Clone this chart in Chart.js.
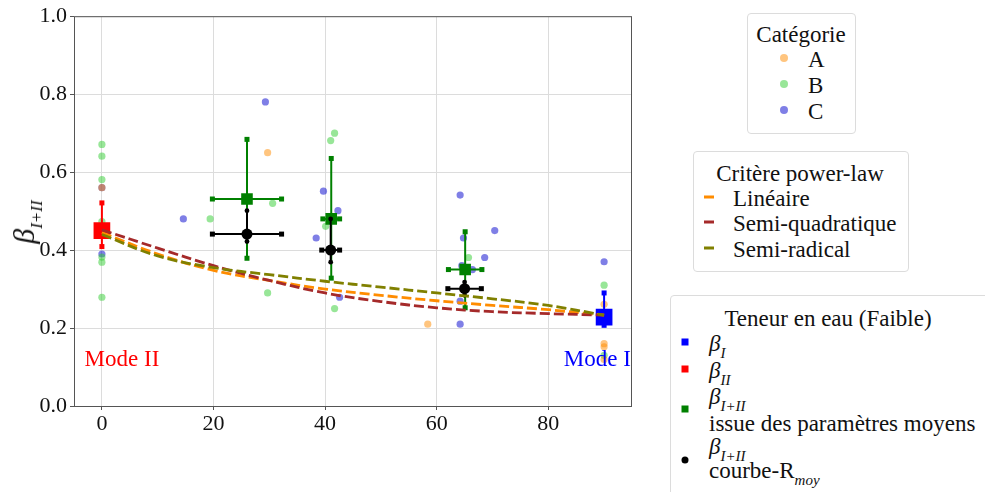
<!DOCTYPE html>
<html>
<head>
<meta charset="utf-8">
<script src="https://cdn.jsdelivr.net/npm/chart.js@4.4.0/dist/chart.umd.min.js"></script>
<style>
body { margin: 0; background: #fff; font-family: "Liberation Serif", "Times New Roman", "DejaVu Serif", serif; color: #111; }
#wrap { position: relative; width: 985px; height: 492px; overflow: hidden; }
canvas { position: absolute; left: 0; top: 0; }
.box { position: absolute; border: 1px solid #dcdcdc; border-radius: 4px; background: #fff; font-size: 23px; font-family: "Liberation Serif", "Times New Roman", serif; }
.box div { position: absolute; white-space: nowrap; line-height: 1; }
.ttl { transform: translate(-50%, -50%); }
.lbl { transform: translateY(-50%); }
.dot { width: 8px; height: 8px; border-radius: 50%; transform: translate(-50%, -50%); }
.dash { width: 10px; height: 3px; transform: translateY(-50%); }
.sq { width: 7px; height: 7px; transform: translate(-50%, -50%); }
sub { font-size: 15px; vertical-align: -7px; }
#ylab { position: absolute; left: 27px; top: 222px; font-size: 30px; transform: translate(-50%, -50%) rotate(-90deg); white-space: nowrap; }
#ylab sub { font-size: 17px; vertical-align: -8px; }
</style>
</head>
<body>
<div id="wrap">
  <canvas id="chart" width="985" height="492"></canvas>
  <div id="ylab"><i>β</i><sub><i>I+II</i></sub></div>

  <div class="box" style="left:747px;top:13px;width:107px;height:119px;">
    <div class="ttl" style="left:53px;top:20px;">Catégorie</div>
    <div class="dot" style="left:36px;top:44px;background:rgba(255,140,0,0.5)"></div>
    <div class="lbl" style="left:60px;top:45px;">A</div>
    <div class="dot" style="left:36px;top:70px;background:rgba(50,205,50,0.5)"></div>
    <div class="lbl" style="left:60px;top:71px;">B</div>
    <div class="dot" style="left:36px;top:96px;background:rgba(0,0,205,0.5)"></div>
    <div class="lbl" style="left:60px;top:97px;">C</div>
  </div>

  <div class="box" style="left:693px;top:151px;width:214px;height:119px;">
    <div class="ttl" style="left:106px;top:21px;">Critère power-law</div>
    <div class="dash" style="left:10px;top:45px;background:#ff8c00"></div>
    <div class="lbl" style="left:39px;top:46px;">Linéaire</div>
    <div class="dash" style="left:10px;top:70px;background:#a52a2a"></div>
    <div class="lbl" style="left:39px;top:71px;">Semi-quadratique</div>
    <div class="dash" style="left:10px;top:96px;background:#808000"></div>
    <div class="lbl" style="left:39px;top:97px;">Semi-radical</div>
  </div>

  <div class="box" style="left:670px;top:295px;width:340px;height:230px;">
    <div class="ttl" style="left:157px;top:22px;">Teneur en eau (Faible)</div>
    <div class="sq" style="left:14px;top:46px;background:#0000ff"></div>
    <div class="lbl" style="left:38px;top:50px;"><i>β</i><sub><i>I</i></sub></div>
    <div class="sq" style="left:14px;top:73px;background:#ff0000"></div>
    <div class="lbl" style="left:38px;top:77px;"><i>β</i><sub><i>II</i></sub></div>
    <div class="sq" style="left:14px;top:113px;background:#008000"></div>
    <div class="lbl" style="left:38px;top:103px;"><i>β</i><sub><i>I+II</i></sub></div>
    <div class="lbl" style="left:38px;top:127px;">issue des paramètres moyens</div>
    <div class="dot" style="left:14px;top:164px;width:7px;height:7px;background:#000"></div>
    <div class="lbl" style="left:38px;top:153px;"><i>β</i><sub><i>I+II</i></sub></div>
    <div class="lbl" style="left:38px;top:177px;">courbe-R<sub><i>moy</i></sub></div>
  </div>
</div>

<script>
// tick positions
const xTicks = [0, 20, 40, 60, 80];
const yTicks = [0, 0.2, 0.4, 0.6, 0.8, 1.0];

// scatter points per category
const catAx = [0, 29.7, 58.4, 90, 90, 90, 90];
const catAy = [0.56, 0.65, 0.21, 0.261, 0.160, 0.152, 0.119];
const catBx = [0, 0, 0, 0, 0, 0, 0, 19.4, 30.6, 29.7, 41.7, 41.0, 40.1, 41.7, 65.7, 90, 90];
const catBy = [0.671, 0.641, 0.581, 0.473, 0.382, 0.369, 0.279, 0.480, 0.520, 0.290, 0.700, 0.681, 0.461, 0.250, 0.381, 0.310, 0.130];
const catCx = [0, 0, 14.6, 29.3, 39.7, 42.3, 38.4, 42.6, 64.2, 64.8, 68.6, 70.4, 64.5, 66.4, 64.2, 64.2, 90];
const catCy = [0.560, 0.390, 0.480, 0.780, 0.551, 0.501, 0.431, 0.279, 0.541, 0.431, 0.381, 0.450, 0.360, 0.350, 0.269, 0.210, 0.370];

// beta II (mode II) and beta I (mode I)
const betaIIx = [0], betaIIy = [0.450], betaIIlo = [0.409], betaIIhi = [0.521];
const betaIx = [90], betaIy = [0.228], betaIlo = [0.207], betaIhi = [0.290];

// beta I+II from mean parameters
const meanX = [26, 41.1, 65.1];
const meanY = [0.531, 0.480, 0.350];
const meanLo = [0.379, 0.328, 0.252];
const meanHi = [0.684, 0.635, 0.447];
const meanXerr = [6.2, 1.5, 3.0];

// beta I+II from R-curve
const rX = [26, 41, 65];
const rY = [0.441, 0.400, 0.301];
const rLo = [0.422, 0.369, 0.284];
const rHi = [0.501, 0.480, 0.318];
const rXerr = [6.2, 1.6, 3.0];

// power-law criteria curves
const curveX = [0, 10, 20, 30, 40, 50, 60, 70, 80, 90];
const lineaire = [0.445, 0.390, 0.348, 0.322, 0.300, 0.284, 0.270, 0.258, 0.247, 0.233];
const semiQuad = [0.452, 0.405, 0.360, 0.322, 0.290, 0.268, 0.252, 0.242, 0.237, 0.233];
const semiRad = [0.440, 0.385, 0.355, 0.337, 0.320, 0.305, 0.290, 0.275, 0.258, 0.233];

const zip = (xs, ys) => xs.map((x, i) => ({ x: x, y: ys[i] }));
const font = '"Liberation Serif", "Times New Roman", serif';

const scatter = (xs, ys, color) => ({
    data: zip(xs, ys), backgroundColor: color, borderWidth: 0,
    pointRadius: 3.6, showLine: false, order: 3
});

const curve = (ys, color, order) => ({
    data: zip(curveX, ys), borderColor: color, borderWidth: 2.8, borderDash: [10, 4],
    pointRadius: 0, showLine: true, tension: 0.4, fill: false, order: order
});

function drawCap(ctx, x, y, style, color) {
    ctx.fillStyle = color;
    if (style === 'circle') {
        ctx.beginPath();
        ctx.arc(x, y, 2.4, 0, Math.PI * 2);
        ctx.fill();
    } else {
        ctx.fillRect(x - 2.5, y - 2.5, 5, 5);
    }
}

// error bars drawn just before their marker dataset
const errorBars = {
    id: 'errorBars',
    beforeDatasetDraw(chart, args) {
        const ds = chart.data.datasets[args.index];
        if (!ds.err) return;
        const ctx = chart.ctx, xs = chart.scales.x, ys = chart.scales.y;
        ctx.save();
        ctx.strokeStyle = ds.err.color;
        ctx.lineWidth = 2;
        ds.data.forEach((p, i) => {
            const px = xs.getPixelForValue(p.x);
            const py = ys.getPixelForValue(p.y);
            const top = ys.getPixelForValue(ds.err.hi[i]);
            const bot = ys.getPixelForValue(ds.err.lo[i]);
            ctx.beginPath();
            ctx.moveTo(px, top); ctx.lineTo(px, bot);
            ctx.stroke();
            drawCap(ctx, px, top, ds.err.vcap, ds.err.color);
            drawCap(ctx, px, bot, ds.err.vcap, ds.err.color);
            if (ds.err.xerr) {
                const l = xs.getPixelForValue(p.x - ds.err.xerr[i]);
                const r = xs.getPixelForValue(p.x + ds.err.xerr[i]);
                ctx.beginPath();
                ctx.moveTo(l, py); ctx.lineTo(r, py);
                ctx.stroke();
                drawCap(ctx, l, py, 'rect', ds.err.color);
                drawCap(ctx, r, py, 'rect', ds.err.color);
            }
        });
        ctx.restore();
    }
};

// frame around the plot + mode labels
const frame = {
    id: 'frame',
    afterDraw(chart) {
        const { ctx, chartArea: a, scales } = chart;
        ctx.save();
        ctx.strokeStyle = '#555';
        ctx.lineWidth = 1;
        ctx.strokeRect(a.left + 0.5, a.top + 0.5, a.right - a.left - 1, a.bottom - a.top);
        ctx.font = '23px ' + font;
        ctx.textBaseline = 'middle';
        ctx.fillStyle = '#ff0000';
        ctx.textAlign = 'left';
        ctx.fillText('Mode II', scales.x.getPixelForValue(-3.1), scales.y.getPixelForValue(0.118));
        ctx.fillStyle = '#0000ff';
        ctx.textAlign = 'right';
        ctx.fillText('Mode I', scales.x.getPixelForValue(94.8), scales.y.getPixelForValue(0.118));
        ctx.restore();
    }
};

new Chart(document.getElementById('chart'), {
    type: 'scatter',
    data: {
        datasets: [
            scatter(catAx, catAy, 'rgba(255,140,0,0.5)'),
            scatter(catBx, catBy, 'rgba(50,205,50,0.5)'),
            scatter(catCx, catCy, 'rgba(0,0,205,0.5)'),
            {
                data: zip(betaIIx, betaIIy), pointStyle: 'rect', pointRadius: 11.8,
                backgroundColor: '#ff0000', borderWidth: 0, order: 2,
                err: { lo: betaIIlo, hi: betaIIhi, color: '#ff0000', vcap: 'rect' }
            },
            {
                data: zip(betaIx, betaIy), pointStyle: 'rect', pointRadius: 11.8,
                backgroundColor: '#0000ff', borderWidth: 0, order: 2,
                err: { lo: betaIlo, hi: betaIhi, color: '#0000ff', vcap: 'rect' }
            },
            {
                data: zip(meanX, meanY), pointStyle: 'rect', pointRadius: 8.2,
                backgroundColor: '#008000', borderWidth: 0, order: 2,
                err: { lo: meanLo, hi: meanHi, xerr: meanXerr, color: '#008000', vcap: 'rect' }
            },
            {
                data: zip(rX, rY), pointStyle: 'circle', pointRadius: 5.5,
                backgroundColor: '#000', borderWidth: 0, order: 1.5,
                err: { lo: rLo, hi: rHi, xerr: rXerr, color: '#000', vcap: 'circle' }
            },
            curve(lineaire, '#ff8c00', 0.3),
            curve(semiQuad, '#a52a2a', 0.2),
            curve(semiRad, '#808000', 0.1)
        ]
    },
    options: {
        responsive: false,
        animation: false,
        layout: { padding: { left: 0, right: 353, top: 14, bottom: 0 } },
        plugins: { legend: { display: false }, tooltip: { enabled: false } },
        scales: {
            x: {
                type: 'linear', min: -5, max: 95,
                afterBuildTicks: s => { s.ticks = xTicks.map(v => ({ value: v })); },
                afterFit: s => { s.height = 86; },
                grid: { color: '#dcdcdc', tickColor: '#555', tickLength: 4 },
                border: { display: false },
                ticks: { color: '#111', font: { family: font, size: 22 }, padding: 1, maxRotation: 0 }
            },
            y: {
                type: 'linear', min: 0, max: 1,
                afterBuildTicks: s => { s.ticks = yTicks.map(v => ({ value: v })); },
                afterFit: s => { s.width = 74; },
                grid: { color: '#dcdcdc', tickColor: '#555', tickLength: 4 },
                border: { display: false },
                ticks: { color: '#111', font: { family: font, size: 22 }, padding: 3, callback: v => v.toFixed(1) }
            }
        }
    },
    plugins: [errorBars, frame]
});
</script>
</body>
</html>
